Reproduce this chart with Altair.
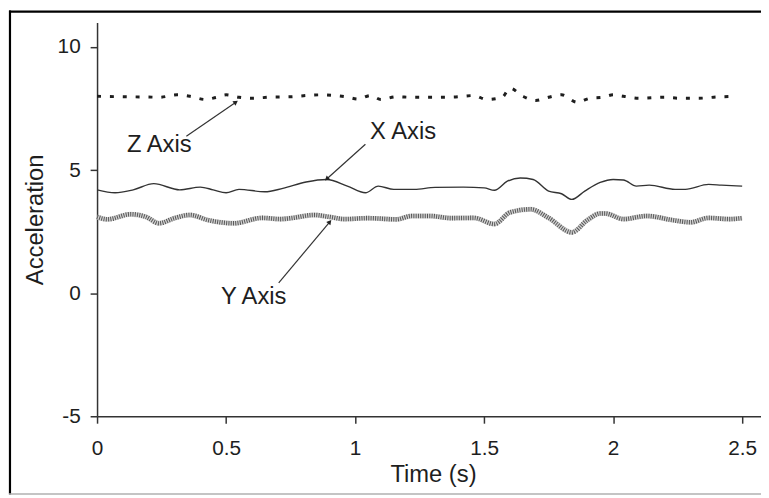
import altair as alt
import pandas as pd

# ---- data ----
x_t = [0.00, 0.07, 0.14, 0.22, 0.32, 0.40, 0.45, 0.50, 0.55, 0.65, 0.72, 0.81, 0.89,
       0.97, 1.04, 1.09, 1.15, 1.23, 1.31, 1.42, 1.50, 1.54, 1.59, 1.64, 1.69, 1.75,
       1.80, 1.84, 1.89, 1.95, 2.00, 2.04, 2.09, 2.14, 2.24, 2.28, 2.37, 2.42, 2.50]
x_v = [4.20, 4.08, 4.20, 4.45, 4.20, 4.31, 4.20, 4.08, 4.22, 4.12, 4.26, 4.52, 4.62,
       4.35, 4.08, 4.35, 4.22, 4.22, 4.30, 4.31, 4.28, 4.18, 4.55, 4.68, 4.62, 4.15,
       4.04, 3.81, 4.15, 4.50, 4.62, 4.60, 4.35, 4.39, 4.22, 4.22, 4.42, 4.39, 4.35]

y_t = [0.00, 0.04, 0.13, 0.19, 0.24, 0.30, 0.36, 0.43, 0.53, 0.64, 0.71, 0.76, 0.84,
       0.90, 0.96, 1.05, 1.16, 1.22, 1.29, 1.37, 1.46, 1.54, 1.60, 1.68, 1.75, 1.84,
       1.90, 1.95, 1.97, 2.04, 2.13, 2.23, 2.30, 2.37, 2.45, 2.50]
y_v = [3.10, 3.00, 3.21, 3.10, 2.84, 3.05, 3.18, 2.97, 2.84, 3.06, 3.01, 3.06, 3.18,
       3.10, 3.01, 3.05, 3.00, 3.14, 3.14, 3.05, 3.06, 2.81, 3.28, 3.41, 3.06, 2.47,
       2.97, 3.24, 3.24, 3.01, 3.14, 2.97, 2.88, 3.06, 3.01, 3.05]

z_t = [0.00, 0.10, 0.20, 0.24, 0.31, 0.36, 0.42, 0.46, 0.50, 0.55, 0.60, 0.68, 0.75,
       0.81, 0.87, 0.92, 0.97, 1.01, 1.06, 1.10, 1.16, 1.22, 1.29, 1.38, 1.46, 1.51,
       1.57, 1.60, 1.65, 1.70, 1.75, 1.80, 1.86, 1.91, 1.96, 2.00, 2.04, 2.10, 2.20,
       2.26, 2.33, 2.40, 2.47]
z_v = [8.00, 7.98, 7.97, 7.96, 8.06, 8.00, 7.87, 7.95, 8.06, 7.96, 7.92, 7.97, 7.98,
       8.03, 8.06, 8.03, 7.97, 7.89, 8.03, 7.87, 7.98, 7.96, 7.96, 7.97, 8.03, 7.87,
       7.96, 8.33, 8.00, 7.83, 7.96, 8.06, 7.76, 7.92, 7.96, 8.06, 8.00, 7.92, 7.96,
       7.92, 7.92, 7.97, 8.00]

ann_labels = ["Z Axis", "X Axis", "Y Axis"]
ann_text_t = [0.116, 1.058, 0.480]
ann_text_v = [5.75, 6.26, -0.45]
arrow_t0 = [0.346, 1.040, 0.704]
arrow_v0 = [6.38, 6.05, 0.42]
arrow_t1 = [0.538, 0.890, 0.902]
arrow_v1 = [7.76, 4.64, 2.90]
arrow_angle = [55.5, 228.3, 39.9]

x_ticks = [0, 0.5, 1, 1.5, 2, 2.5]
y_ticks = [-5, 0, 5, 10]

FONT = "Liberation Sans"
INK = "#1e1e1e"

xdf = pd.DataFrame({"t": x_t, "v": x_v})
ydf = pd.DataFrame({"t": y_t, "v": y_v})
zdf = pd.DataFrame({"t": z_t, "v": z_v})
ann = pd.DataFrame({"label": ann_labels, "t": ann_text_t, "v": ann_text_v})
arr = pd.DataFrame({"t": arrow_t0, "v": arrow_v0, "t2": arrow_t1, "v2": arrow_v1})
heads = pd.DataFrame({"t": arrow_t1, "v": arrow_v1, "ang": arrow_angle})

xs = alt.Scale(domain=[0, 2.573], nice=False, zero=False)
ys = alt.Scale(domain=[-5, 11], nice=False, zero=False)

x_axis = alt.Axis(values=x_ticks, title="Time (s)", grid=False,
                  labelExpr="'' + datum.value", labelFlush=False, labelOverlap=False,
                  tickSize=7, labelPadding=15,
                  titleX=339.5, titleY=66, titleAlign="center", titleBaseline="alphabetic")
y_axis = alt.Axis(values=y_ticks, title="Acceleration", grid=False,
                  labelExpr="'' + datum.value", labelFlush=False, labelOverlap=False,
                  tickSize=7, labelPadding=10,
                  titleX=-55.5, titleY=199, titleAlign="center", titleBaseline="alphabetic",
                  titleAngle=270)

X = alt.X("t:Q", scale=xs, axis=x_axis)
Y = alt.Y("v:Q", scale=ys, axis=y_axis)

x_line = alt.Chart(xdf).mark_line(color="#333333", strokeWidth=1.4,
                                  interpolate="monotone").encode(x=X, y=Y)
y_base = alt.Chart(ydf).mark_line(color="#d2d2d2", strokeWidth=5,
                                  interpolate="monotone").encode(x=X, y=Y)
y_tex = alt.Chart(ydf).mark_line(color="#555555", strokeWidth=4.6, strokeDash=[1, 1.3],
                                 interpolate="monotone").encode(x=X, y=Y)
z_line = alt.Chart(zdf).mark_line(color=INK, strokeWidth=3, strokeDash=[4, 9],
                                  interpolate="monotone").encode(x=X, y=Y)

arrows = alt.Chart(arr).mark_rule(color="#333333", strokeWidth=1.2).encode(
    x=X, y=Y, x2="t2:Q", y2="v2:Q")
arrowheads = alt.Chart(heads).mark_point(shape="triangle-up", filled=True, size=30,
                                         color="#222222", opacity=1).encode(
    x=X, y=Y, angle=alt.Angle("ang:Q", scale=None))
texts = alt.Chart(ann).mark_text(font=FONT, fontSize=24, color=INK, align="left",
                                 baseline="alphabetic").encode(x=X, y=Y, text="label:N")

dummy = pd.DataFrame({"a": [0]})
border_left = alt.Chart(dummy).mark_rule(color="#000000", strokeWidth=2.2).encode(
    x=alt.value(-88), y=alt.value(-12), y2=alt.value(477))
border_top = alt.Chart(dummy).mark_rule(color="#000000", strokeWidth=2.2).encode(
    y=alt.value(-11), x=alt.value(-89), x2=alt.value(690))
border_bottom = alt.Chart(dummy).mark_rule(color="#b0b0b0", strokeWidth=1.5).encode(
    y=alt.value(476.5), x=alt.value(-89), x2=alt.value(690))

chart = alt.layer(
    x_line, y_base, y_tex, z_line, arrows, arrowheads, texts,
    border_left, border_top, border_bottom
).properties(
    width=671, height=398,
    autosize=alt.AutoSizeParams(type="none"),
    padding={"left": 90, "top": 12, "right": 0, "bottom": 80},
).configure_view(stroke=None).configure_axis(
    domainColor="#333333", domainWidth=1.5, tickColor="#333333", tickWidth=1.5,
    labelFont=FONT, labelFontSize=21, labelColor=INK,
    titleFont=FONT, titleFontSize=24, titleColor=INK, titleFontWeight="normal",
)

chart.save("out.html", embed_options={"renderer": "svg", "actions": False})
